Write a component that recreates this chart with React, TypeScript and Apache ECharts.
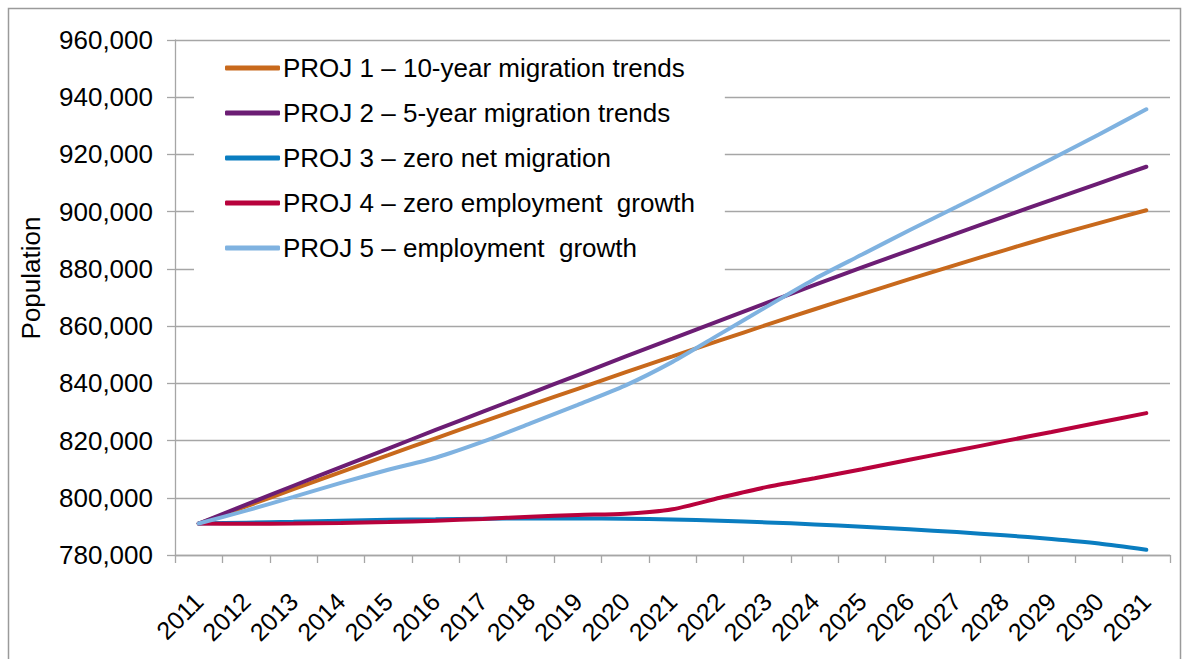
import React, { useEffect, useRef } from "react";
import * as echarts from "echarts";

const years = [
  "2011", "2012", "2013", "2014", "2015", "2016", "2017", "2018", "2019", "2020",
  "2021", "2022", "2023", "2024", "2025", "2026", "2027", "2028", "2029", "2030", "2031",
];

const seriesNames = [
  "PROJ 1 – 10-year migration trends",
  "PROJ 2 – 5-year migration trends",
  "PROJ 3 – zero net migration",
  "PROJ 4 – zero employment  growth",
  "PROJ 5 – employment  growth",
];

const proj1 = [
  791000, 797000, 803000, 809000, 814900, 820800, 826600, 832400, 838100, 843800,
  849400, 855000, 860500, 865900, 871200, 876400, 881500, 886500, 891400, 896000, 900500,
];
const proj2 = [
  791000, 797600, 804200, 810700, 817200, 823700, 830100, 836500, 842900, 849300,
  855600, 861900, 868200, 874400, 880500, 886500, 892400, 898300, 904100, 909900, 915700,
];
const proj3 = [
  791000, 791300, 791600, 792000, 792300, 792500, 792700, 792800, 792800, 792700,
  792400, 792000, 791400, 790700, 789900, 789000, 788000, 786900, 785600, 784000, 781800,
];
const proj4 = [
  791000, 790900, 791000, 791200, 791500, 792000, 792600, 793400, 794000, 794400,
  796000, 800000, 803800, 806800, 810000, 813300, 816500, 819800, 823000, 826300, 829600,
];
const proj5 = [
  791000, 795500, 800300, 805200, 809800, 814000, 819600, 826000, 832500, 839200,
  847500, 857200, 866900, 876500, 885000, 893500, 901700, 910000, 918400, 927000, 935800,
];

const colors = ["#C8691C", "#6C1D74", "#0A7DC0", "#B8023C", "#7FB2E0"];
const allData = [proj1, proj2, proj3, proj4, proj5];

const FONT = "'Liberation Sans', Arial, sans-serif";

export default function App() {
  const ref = useRef<HTMLDivElement>(null);

  useEffect(() => {
    if (!ref.current) return;
    const chart = echarts.init(ref.current, null, { renderer: "svg" });
    chart.setOption({
      animation: false,
      backgroundColor: "#ffffff",
      color: colors,
      grid: { left: 175, right: 18, top: 40, bottom: 104, containLabel: false },
      legend: {
        orient: "vertical",
        left: 194,
        top: 45,
        padding: [10, 30, 10, 31],
        backgroundColor: "#ffffff",
        itemWidth: 55,
        itemHeight: 5,
        itemGap: 19,
        icon: "roundRect",
        textStyle: { fontFamily: FONT, fontSize: 26, color: "#000", padding: [0, 0, 0, -2] },
        data: seriesNames,
      },
      xAxis: {
        type: "category",
        data: years,
        boundaryGap: true,
        axisLine: { show: true, lineStyle: { color: "#a6a6a6", width: 1.3 } },
        axisTick: { show: true, length: 8, alignWithLabel: false, lineStyle: { color: "#a6a6a6", width: 1.3 } },
        axisLabel: {
          rotate: 45,
          margin: 42,
          fontFamily: FONT,
          fontSize: 25,
          color: "#000",
          interval: 0,
        },
        splitLine: { show: false },
      },
      yAxis: {
        type: "value",
        min: 780000,
        max: 960000,
        interval: 20000,
        axisLine: { show: true, lineStyle: { color: "#a6a6a6", width: 1.3 } },
        axisTick: { show: true, length: 8, lineStyle: { color: "#a6a6a6", width: 1.3 } },
        axisLabel: {
          margin: 22,
          fontFamily: FONT,
          fontSize: 26,
          color: "#000",
          formatter: (v: number) => v.toLocaleString("en-US"),
        },
        splitLine: { show: true, lineStyle: { color: "#a6a6a6", width: 1.3 } },
      },
      graphic: [
        {
          type: "rect",
          shape: { x: 8.5, y: 8.5, width: 1172, height: 660 },
          style: { fill: "none", stroke: "#9a9a9a", lineWidth: 1.5 },
          silent: true,
        },
        {
          type: "text",
          x: 18,
          y: 278,
          rotation: Math.PI / 2,
          style: {
            text: "Population",
            font: `26px ${FONT}`,
            fill: "#000",
            align: "center",
            verticalAlign: "top",
          },
        },
      ],
      series: seriesNames.map((name, i) => ({
        name,
        type: "line",
        data: allData[i],
        smooth: 0.25,
        showSymbol: false,
        symbol: "none",
        lineStyle: { width: 4, color: colors[i], cap: "round" },
        itemStyle: { color: colors[i] },
        z: 2 + i * 0.01,
      })),
    });
    return () => chart.dispose();
  }, []);

  return (
    <div
      ref={ref}
      style={{ position: "fixed", left: 0, top: 0, width: 1188, height: 659 }}
    />
  );
}
